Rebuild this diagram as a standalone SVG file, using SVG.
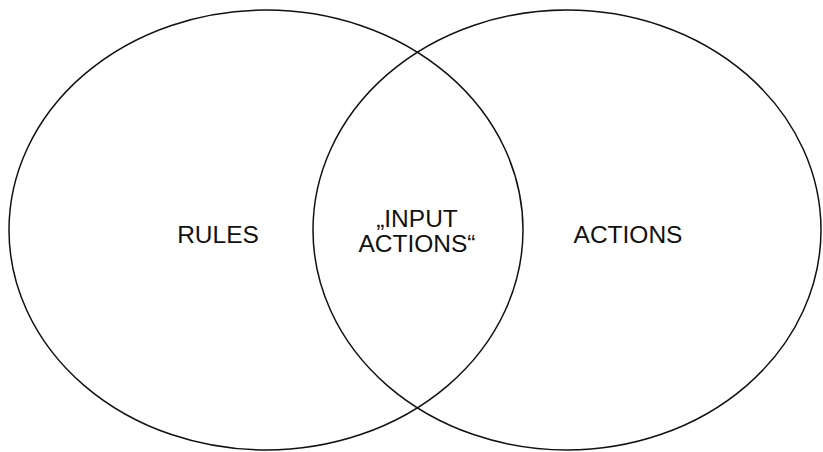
<svg xmlns="http://www.w3.org/2000/svg" width="823" height="452" viewBox="0 0 823 452">
<style>
.c{fill:none;stroke:#111;stroke-width:1.5}
.t{font-family:"Liberation Sans",Arial,sans-serif;font-size:24.5px;fill:#111;text-anchor:middle}
</style>
<rect width="823" height="452" fill="#fff"/>
<g id="rules">
<ellipse class="c" cx="266" cy="230" rx="257" ry="220"/>
<text class="t" x="218" y="243">RULES</text>
</g>
<g id="actions">
<ellipse class="c" cx="567" cy="230" rx="254" ry="220"/>
<text class="t" x="628" y="243">ACTIONS</text>
</g>
<g id="input-actions">
<text class="t" x="417" y="227">„INPUT</text>
<text class="t" x="417" y="252">ACTIONS“</text>
</g>
<g id="connectors"/>
</svg>
